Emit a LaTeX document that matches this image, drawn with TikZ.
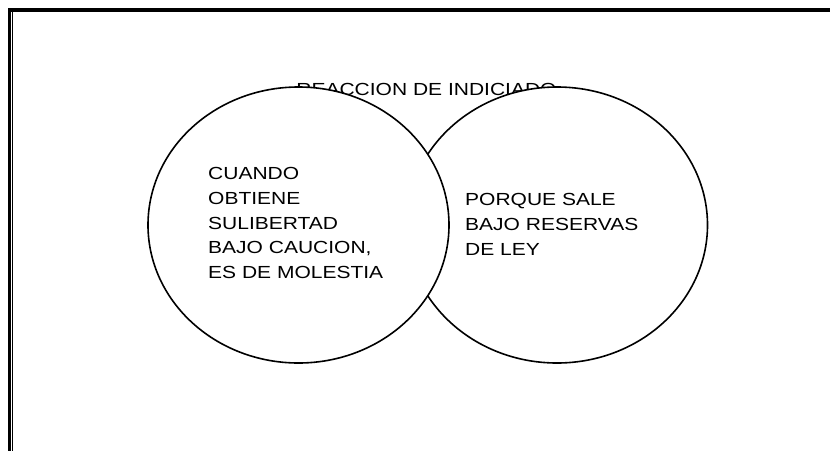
\documentclass[tikz,border=0pt]{standalone}
\usepackage{fontspec}
\setmainfont{Liberation Sans}
\newfontfamily\widesans[FakeStretch=1.2]{Liberation Sans}
\usetikzlibrary{shapes.geometric}

\begin{document}
\begin{tikzpicture}[x=1pt,y=-1pt,
  set/.style={draw,ellipse,fill=white,line width=1.6pt,minimum width=301pt,minimum height=276pt,inner sep=0pt},
  txt/.style={inner sep=0pt,align=left,anchor=north west,font=\widesans\fontsize{17.5}{24.8}\selectfont}
]
\useasboundingbox (0,0) rectangle (830,451);
% page frame
\draw[line width=4pt] (8,10) -- (830,10);
\draw[line width=3pt] (9.5,8) -- (9.5,451);
\draw[line width=1.3pt] (12.6,12) -- (12.6,451);
\node[inner sep=0pt,anchor=base,font=\widesans\fontsize{17.5}{21}\selectfont] (title) at (426.5,95.7) {REACCION DE INDICIADO};
\node[set] (right) at (557,225) {};
\node[set] (left) at (298.5,225) {};
\node[txt] (why) at (465,193.5) {PORQUE SALE\\BAJO RESERVAS\\DE LEY};
\node[txt] (when) at (208,167) {CUANDO\\OBTIENE\\SULIBERTAD\\BAJO CAUCION,\\ES DE MOLESTIA};
\end{tikzpicture}
\end{document}
